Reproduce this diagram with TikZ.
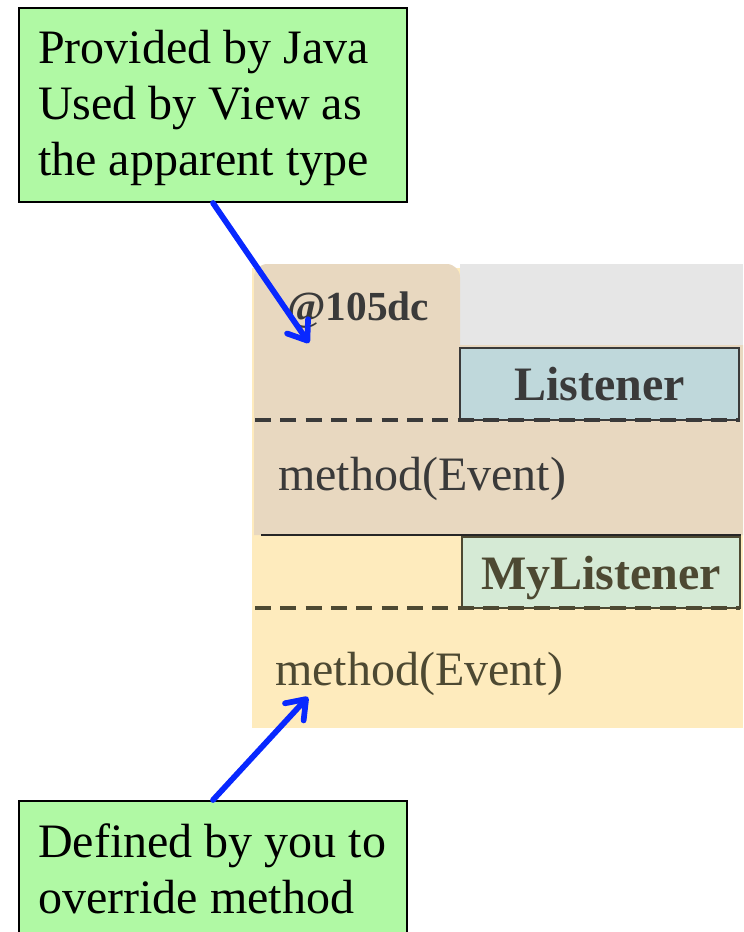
\documentclass[tikz,border=0pt]{standalone}
\usepackage{fontspec}
\setmainfont{Liberation Serif}
\usetikzlibrary{arrows.meta}
\definecolor{calloutgreen}{RGB}{176,249,164}
\definecolor{arrowblue}{RGB}{8,40,255}
\definecolor{objtan}{RGB}{232,216,192}
\definecolor{objyellow}{RGB}{254,235,189}
\definecolor{objgray}{RGB}{230,230,230}
\definecolor{listenerfill}{RGB}{191,216,219}
\definecolor{mylistenerfill}{RGB}{213,234,213}
\definecolor{darktext}{RGB}{58,58,58}
\definecolor{olivetext}{RGB}{77,73,50}
\newcommand{\bigtxt}{\fontsize{36}{42}\selectfont}
\begin{document}
\begin{tikzpicture}[x=0.75pt,y=-0.75pt,
  calloutbox/.style={draw=black, line width=1.5pt, fill=calloutgreen, anchor=north west, inner sep=0pt},
  callouttext/.style={anchor=base west, align=left, inner sep=0pt, font=\bigtxt, text=black},
  classbox/.style={line width=1.1pt, inner sep=0pt, text depth=0pt, font=\bigtxt\bfseries},
  methodtext/.style={anchor=base west, inner sep=0pt, font=\bigtxt},
  dashline/.style={line width=2.3pt, dash pattern=on 12pt off 7pt},
  bluearrow/.style={draw=arrowblue, line width=4.3pt, line cap=round,
    -{Straight Barb[length=13pt,width=19pt,round]}}]
\useasboundingbox (0,0) rectangle (743,932);
\clip (0,0) rectangle (743,932);
% object background
\fill[objyellow] (252,268) rectangle (743,728);
\fill[objgray] (460,264) rectangle (743,346);
\fill[objtan] (254,535) -- (254,300) [rounded corners=10pt] -- (254,264) -- (460,264) -- (460,300) [sharp corners] -- (460,345) -- (743,345) -- (743,535) -- cycle;
% Listener part
\node[classbox, draw=darktext, fill=listenerfill, text=darktext, minimum width=209.25pt, minimum height=54pt] (listener) at (599.5,384) {Listener};
\draw[dashline, draw=darktext] (255,420) -- (740,420);
\node[methodtext, text=darktext] (m1) at (278,490) {method(Event)};
\node[anchor=base west, inner sep=0pt, font=\fontsize{31}{36}\selectfont\bfseries, text=darktext] (addr) at (287,320) {@105dc};
\draw[line width=1.9pt, draw=black!85] (261,535) -- (741,535);
% MyListener part
\node[classbox, draw=olivetext, fill=mylistenerfill, text=olivetext, minimum width=208.5pt, minimum height=53.25pt] (mylistener) at (601,572.5) {MyListener};
\draw[dashline, draw=olivetext] (255,608) -- (740,608);
\node[methodtext, text=olivetext] (m2) at (275,685) {method(Event)};
% callouts
\node[calloutbox, minimum width=291pt, minimum height=145.5pt] (java) at (18,7) {};
\node[callouttext] (javatext) at (38,175) {Provided by Java\\Used by View as\\the apparent type};
\node[calloutbox, minimum width=291pt, minimum height=120pt] (defined) at (18,800) {};
\node[callouttext] (definedtext) at (38,913) {Defined by you to\\override method};
% arrows
\coordinate (tipA) at (309,343);
\coordinate (tipB) at (308,697);
\draw[bluearrow] (java.south) -- (tipA);
\draw[bluearrow] (defined.north) -- (tipB);
\end{tikzpicture}
\end{document}
